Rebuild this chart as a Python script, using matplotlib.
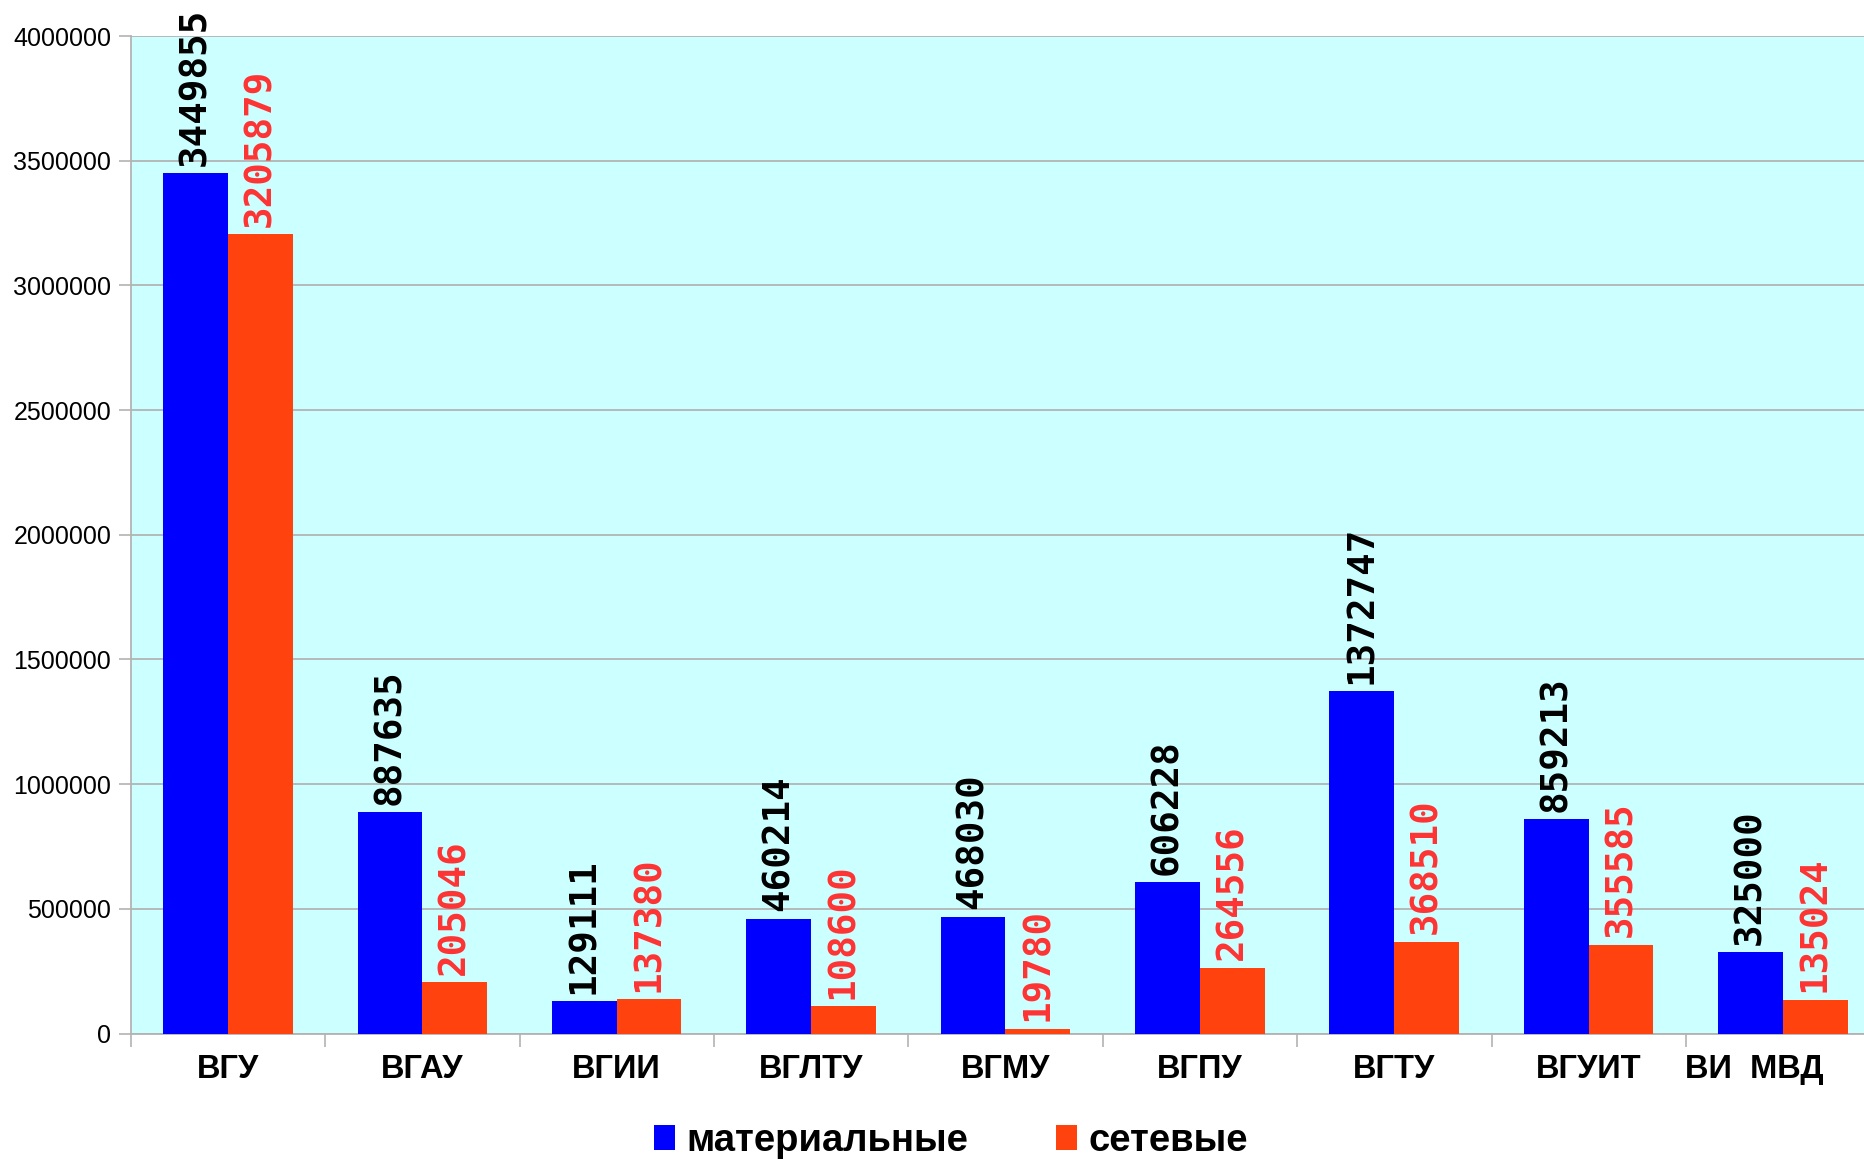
import matplotlib
matplotlib.use("Agg")
import matplotlib.pyplot as plt
import numpy as np
from matplotlib.patches import Patch
from matplotlib.transforms import ScaledTranslation

categories = ["ВГУ", "ВГАУ", "ВГИИ", "ВГЛТУ", "ВГМУ", "ВГПУ", "ВГТУ", "ВГУИТ", "ВИ  МВД"]
material = [3449855, 887635, 129111, 460214, 468030, 606228, 1372747, 859213, 325000]
network = [3205879, 205046, 137380, 108600, 19780, 264556, 368510, 355585, 135024]
series_names = ["материальные", "сетевые"]
y_ticks = [0, 500000, 1000000, 1500000, 2000000, 2500000, 3000000, 3500000, 4000000]

BLUE = "#0000FF"
ORANGE = "#FF420E"
LABEL_RED = "#FF3333"
BG = "#CCFFFF"
GRID = "#B3B3B3"

fig = plt.figure(figsize=(18.64, 11.60), dpi=100)
W, H = 1864, 1160
left_px, step_px = 130.7, 194.4
bottom_px, top_px = 1033.5, 36
ax = fig.add_axes([left_px / W, (H - bottom_px) / H,
                   9 * step_px / W, (bottom_px - top_px) / H])
ax.set_facecolor(BG)

x = np.arange(len(categories))
bw = 1 / 3
ax.bar(x - bw / 2, material, width=bw, color=BLUE, zorder=3)
ax.bar(x + bw / 2, network, width=bw, color=ORANGE, zorder=3)

ax.set_xlim(-0.5, len(categories) - 0.5)
ax.set_ylim(0, 4000000)
ax.set_yticks(y_ticks)
ax.set_yticklabels([str(v) for v in y_ticks], fontsize=18, family="Liberation Sans")
ax.yaxis.grid(True, color=GRID, linewidth=1.3, zorder=0)
ax.tick_params(axis="y", length=9, width=1.2, color=GRID, pad=5)

ax.set_xticks(np.arange(len(categories) + 1) - 0.5)
ax.set_xticklabels([])
ax.tick_params(axis="x", which="major", length=9, width=1.2, color=GRID)
ax.set_xticks(x, minor=True)
ax.set_xticklabels(categories, minor=True, fontsize=23.5, fontweight="bold",
                   family="Liberation Sans")
ax.tick_params(axis="x", which="minor", length=0, pad=15)
last = ax.get_xticklabels(minor=True)[-1]
last.set_transform(last.get_transform() + ScaledTranslation(-0.29, 0, fig.dpi_scale_trans))

for s in ["top", "right"]:
    ax.spines[s].set_visible(False)
for s in ["left", "bottom"]:
    ax.spines[s].set_color(GRID)
    ax.spines[s].set_linewidth(1.3)

off = 30000
for xi, v in zip(x, material):
    ax.text(xi - bw / 2, v + off, str(v), rotation=90, ha="center", va="bottom",
            fontsize=27, fontweight="bold", family="DejaVu Sans Mono", color="black",
            zorder=4)
for xi, v in zip(x, network):
    ax.text(xi + bw / 2, v + off, str(v), rotation=90, ha="center", va="bottom",
            fontsize=27, fontweight="bold", family="DejaVu Sans Mono", color=LABEL_RED,
            zorder=4)

handles = [Patch(facecolor=BLUE), Patch(facecolor=ORANGE)]
fig.legend(handles, series_names, loc="center", bbox_to_anchor=(951 / W, (H - 1141) / H),
           ncol=2, frameon=False, prop={"family": "Liberation Sans", "weight": "bold", "size": 27.5},
           handlelength=0.56, handleheight=0.6, handletextpad=0.3, columnspacing=2.3,
           borderpad=0)

fig.savefig("out.png", dpi=100)
